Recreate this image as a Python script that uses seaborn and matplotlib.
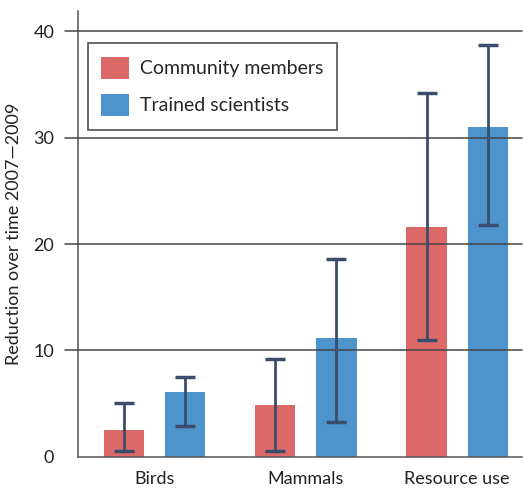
import matplotlib
matplotlib.use("Agg")
import matplotlib.pyplot as plt
import seaborn as sns
import pandas as pd
import numpy as np

categories = ["Birds", "Mammals", "Resource use"]
groups = ["Community members", "Trained scientists"]
community = [2.5, 4.9, 21.6]
community_lo = [0.6, 0.6, 11.0]
community_hi = [5.1, 9.2, 34.2]
trained = [6.1, 11.2, 31.0]
trained_lo = [2.9, 3.3, 21.8]
trained_hi = [7.5, 18.6, 38.7]

RED = "#dd6868"
BLUE = "#4d94cc"
ERR = "#3c4d6b"

sns.set_style("white")
plt.rcParams["font.family"] = ["Lato", "DejaVu Sans"]

df = pd.DataFrame({
    "category": categories * 2,
    "group": [groups[0]] * 3 + [groups[1]] * 3,
    "value": community + trained,
})

fig = plt.figure(figsize=(5.23, 4.94), dpi=100)
ax = fig.add_axes([0.149, 0.075, 0.849, 0.903])

sns.barplot(data=df, x="category", y="value", hue="group", order=categories,
            hue_order=groups, palette=[RED, BLUE], saturation=1, width=0.808,
            gap=0.344, errorbar=None, ax=ax, zorder=2, linewidth=0)

# asymmetric error bars at the bar centres
lows = community_lo + trained_lo
highs = community_hi + trained_hi
for patch, lo, hi in zip(ax.patches[:6], lows, highs):
    xc = patch.get_x() + patch.get_width() / 2
    ax.errorbar(xc, (lo + hi) / 2, yerr=(hi - lo) / 2, color=ERR, lw=2,
                capsize=7, capthick=2.5, zorder=4)

ax.set_ylim(0, 41.9)
ax.set_xlim(-0.51, 2.43)
ax.set_yticks([0, 10, 20, 30, 40])
for y in [10, 20, 30, 40]:
    ax.axhline(y, color="#444444", lw=1.1, zorder=3, xmin=-0.03, clip_on=False)

ax.set_xlabel("")
ax.set_ylabel("Reduction over time 2007\u20142009", fontsize=13, color="#222222",
              labelpad=8)
ax.tick_params(axis="y", length=14, width=1.1, color="#444444", labelsize=13,
               labelcolor="#222222", pad=3)
ax.tick_params(axis="x", length=0, labelsize=13, labelcolor="#222222", pad=10)
sns.despine(ax=ax, top=True, right=True)
ax.spines["left"].set_color("#555555")
ax.spines["left"].set_linewidth(1.1)
ax.spines["bottom"].set_color("#555555")
ax.spines["bottom"].set_linewidth(1.1)

leg = ax.legend(loc="upper left", bbox_to_anchor=(0.022, 0.928), fontsize=14,
                frameon=True, fancybox=False, edgecolor="#222222",
                handlelength=1.4, handleheight=1.4, labelspacing=0.75,
                borderpad=0.7, handletextpad=0.6, borderaxespad=0, title=None)
leg.get_frame().set_linewidth(1.2)
leg.set_zorder(5)

plt.savefig("out.png", dpi=100)
